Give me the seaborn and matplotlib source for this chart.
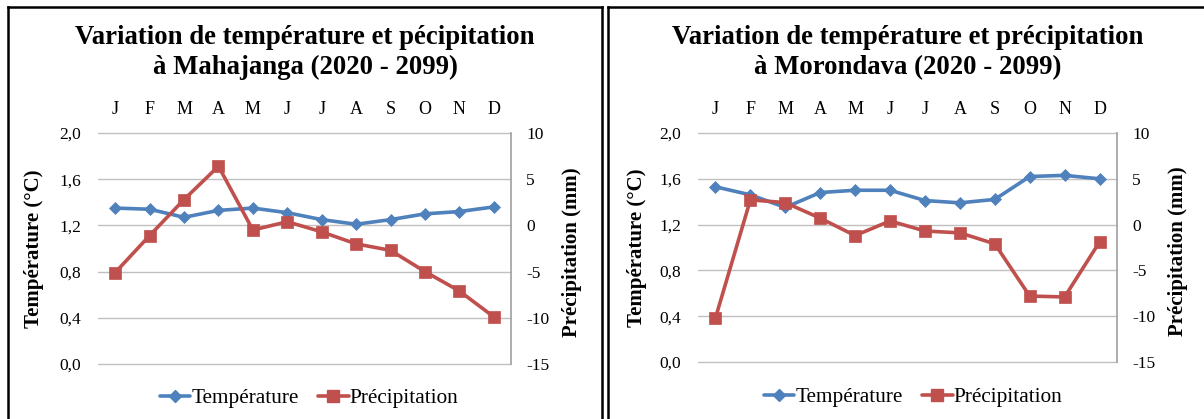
import numpy as np
import pandas as pd
import matplotlib
matplotlib.use("Agg")
import matplotlib.pyplot as plt
from matplotlib.lines import Line2D
import seaborn as sns

# ---------------- data ----------------
months = ["J", "F", "M", "A", "M", "J", "J", "A", "S", "O", "N", "D"]
month_idx = list(range(12))

temp_mahajanga = [1.35, 1.34, 1.27, 1.33, 1.35, 1.31, 1.25, 1.21, 1.25, 1.30, 1.32, 1.36]
prec_mahajanga = [-5.1, -1.1, 2.8, 6.4, -0.5, 0.4, -0.7, -2.0, -2.7, -5.0, -7.1, -9.9]

temp_morondava = [1.53, 1.46, 1.35, 1.48, 1.50, 1.50, 1.41, 1.39, 1.42, 1.62, 1.63, 1.60]
prec_morondava = [-10.2, 2.7, 2.4, 0.7, -1.2, 0.4, -0.7, -0.9, -2.1, -7.8, -7.9, -1.9]

titles = ["Variation de température et pécipitation\nà Mahajanga (2020 - 2099)",
          "Variation de température et précipitation\nà Morondava (2020 - 2099)"]

temp_ticks = [0.0, 0.4, 0.8, 1.2, 1.6, 2.0]
temp_ticklabels = ["0,0", "0,4", "0,8", "1,2", "1,6", "2,0"]
prec_ticks = [-15, -10, -5, 0, 5, 10]
prec_ticklabels = ["-15", "-10", "-5", "0", "5", "10"]

temp_label = "Température (°C)"
prec_label = "Précipitation (mm)"
series_names = ["Température", "Précipitation"]

# ---------------- style ----------------
sns.set_theme(style="white")
plt.rcParams["font.family"] = ["Liberation Serif", "DejaVu Serif"]
plt.rcParams["text.color"] = "black"
plt.rcParams["axes.labelcolor"] = "black"
plt.rcParams["xtick.color"] = "black"
plt.rcParams["ytick.color"] = "black"

BLUE = "#4F81BD"
RED = "#C0504D"
GRID = "#C0C0C0"

W, H = 1204, 419
fig = plt.figure(figsize=(W / 100, H / 100), dpi=100)
fig.patch.set_facecolor("white")


def fx(px):
    return px / W


def fy(py):
    return 1 - py / H


# panel geometry in pixels: (left, top, right, bottom) of plot area
panels = [
    dict(plot=(98, 133, 511, 364), title_x=305, ylab_l=34, ylab_r=572, leg_x=309, leg_y=398,
         temp=temp_mahajanga, prec=prec_mahajanga, title=titles[0]),
    dict(plot=(698, 133, 1117, 362), title_x=908, ylab_l=637, ylab_r=1178, leg_x=913, leg_y=397,
         temp=temp_morondava, prec=prec_morondava, title=titles[1]),
]

for p in panels:
    l, t, r, b = p["plot"]
    ax = fig.add_axes([fx(l), fy(b), fx(r) - fx(l), fy(t) - fy(b)])
    ax2 = ax.twinx()

    df = pd.DataFrame({"idx": month_idx, "temp": p["temp"], "prec": p["prec"]})

    sns.lineplot(data=df, x="idx", y="temp", ax=ax, color=BLUE, lw=2.6,
                 marker="D", markersize=6, markeredgecolor=BLUE, markeredgewidth=0.5,
                 legend=False)
    sns.lineplot(data=df, x="idx", y="prec", ax=ax2, color=RED, lw=2.6,
                 marker="s", markersize=8, markeredgecolor=RED, markeredgewidth=0.5,
                 legend=False)

    ax.set_xlim(-0.5, 11.5)
    ax.set_ylim(0, 2.0)
    ax2.set_ylim(-15, 10)

    ax.set_yticks(temp_ticks)
    ax.set_yticklabels(temp_ticklabels)
    ax2.set_yticks(prec_ticks)
    ax2.set_yticklabels(prec_ticklabels)

    ax.xaxis.tick_top()
    ax.set_xticks(month_idx)
    ax.set_xticklabels(months)
    ax.tick_params(axis="x", length=0, pad=11, labelsize=13, labelcolor="black")
    ax.tick_params(axis="y", length=0, pad=12, labelsize=12.5, labelcolor="black")
    ax2.tick_params(axis="y", length=0, pad=11, labelsize=12.5, labelcolor="black")

    ax.set_xlabel("")
    ax.set_ylabel("")
    ax2.set_ylabel("")

    ax.grid(axis="y", color=GRID, lw=1.0)
    ax.grid(axis="x", visible=False)
    ax2.grid(False)
    for gl in ax.get_ygridlines():
        gl.set_clip_on(False)

    for s in ["left", "top", "bottom"]:
        ax.spines[s].set_visible(False)
        ax2.spines[s].set_visible(False)
    ax.spines["right"].set_visible(False)
    ax2.spines["right"].set_visible(True)
    ax2.spines["right"].set_color("#A0A0A0")
    ax2.spines["right"].set_linewidth(1.2)

    # titles and axis labels
    fig.text(fx(p["title_x"]), fy(52.5), p["title"], ha="center", va="center",
             fontsize=19.3, fontweight="bold", linespacing=1.3, color="black")
    fig.text(fx(p["ylab_l"]), fy((t + b) / 2 + 0), temp_label, ha="center", va="center",
             rotation=90, fontsize=15, fontweight="bold", color="black")
    fig.text(fx(p["ylab_r"]), fy((t + b) / 2 + 4), prec_label, ha="center", va="center",
             rotation=90, fontsize=15, fontweight="bold", color="black")

    handles = [
        Line2D([], [], color=BLUE, lw=2.6, marker="D", markersize=6),
        Line2D([], [], color=RED, lw=2.6, marker="s", markersize=8),
    ]
    leg = ax.legend(handles, series_names, loc="center", ncol=2, frameon=False,
                    bbox_to_anchor=(fx(p["leg_x"]), fy(p["leg_y"])), bbox_transform=fig.transFigure,
                    fontsize=15.3, handlelength=1.45, handletextpad=0.05, columnspacing=0.9,
                    borderaxespad=0, borderpad=0)
    for txt in leg.get_texts():
        txt.set_color("black")

# panel borders
border_kw = dict(transform=fig.transFigure, color="black", lw=1.8, solid_capstyle="projecting")
fig.add_artist(Line2D([fx(8), fx(8)], [fy(7), fy(420)], **border_kw))
fig.add_artist(Line2D([fx(8), fx(602)], [fy(7), fy(7)], **border_kw))
fig.add_artist(Line2D([fx(602), fx(602)], [fy(7), fy(420)], **border_kw))
fig.add_artist(Line2D([fx(608), fx(608)], [fy(7), fy(420)], **border_kw))
fig.add_artist(Line2D([fx(608), fx(1205)], [fy(7), fy(7)], **border_kw))

fig.savefig("out.png", dpi=100, facecolor="white")
